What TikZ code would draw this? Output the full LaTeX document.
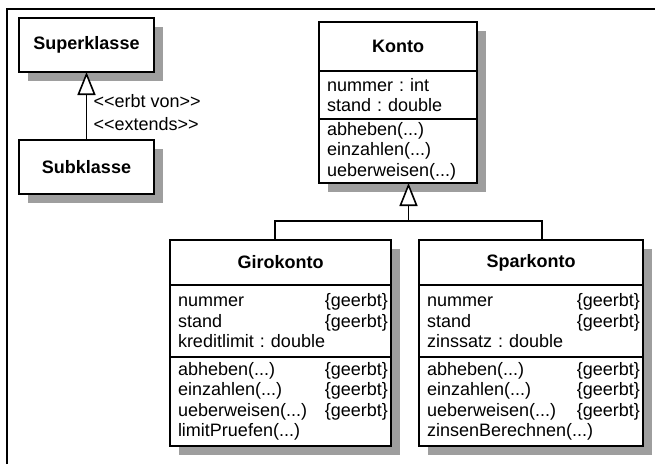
\documentclass[tikz,border=0pt]{standalone}
\usepackage{fontspec}
\setmainfont{Liberation Sans}
\usepackage{tikz}
\usetikzlibrary{arrows.meta, positioning, calc}
\setlength{\parindent}{0pt}
\frenchspacing

\newcommand{\geerbt}{\hfill\{geerbt\}\kern-5pt}

\begin{document}
\begin{tikzpicture}[
    x=1pt, y=1pt,
    font=\fontsize{18}{20.5}\selectfont,
    part/.style={rectangle, draw=black, fill=white, line width=1.6pt, outer sep=0pt, inner xsep=8pt, inner ysep=2pt, text width=#1},
    title/.style={part=#1, align=center, font=\fontsize{18}{20.5}\selectfont\bfseries},
    members/.style={part=#1, align=left},
    shadowbox/.style={fill=black!38},
    link/.style={line width=1.6pt},
    inherit/.style={link, -{Triangle[width=18pt, length=23pt, fill=white]}},
    frame/.style={line width=2.6pt}
]
\useasboundingbox (0,0) rectangle (655,-464);
\draw [frame] (7,-464) |- (655,-9);

% Schatten
\fill [shadowbox] (28,-27) rectangle (163,-81);
\fill [shadowbox] (28,-149) rectangle (163,-203);
\fill [shadowbox] (328,-31) rectangle (486,-192);
\fill [shadowbox] (179,-249) rectangle (400,-455);
\fill [shadowbox] (428,-249) rectangle (652,-455);

% Legende
\node (super) [title=119pt, minimum height=54pt, anchor=north west] at (19,-18) {Superklasse};
\node (sub) [title=119pt, minimum height=54pt, below=68pt of super] {Subklasse};

% Konto
\node (konto) [title=142pt, minimum height=49pt, anchor=north west] at (319,-22) {Konto};
\node (konto-attr) [members=142pt, minimum height=48pt, below=0pt of konto] {nummer : int\\stand : double};
\node (konto-ops) [members=142pt, minimum height=64pt, below=0pt of konto-attr] {abheben(...)\\einzahlen(...)\\ueberweisen(...)};

% Girokonto
\node (giro) [title=205pt, minimum height=45pt, anchor=north west] at (170,-240) {Girokonto};
\node (giro-attr) [members=205pt, minimum height=72pt, below=0pt of giro] {nummer\geerbt\\stand\geerbt\\kreditlimit : double};
\node (giro-ops) [members=205pt, minimum height=89pt, below=0pt of giro-attr] {abheben(...)\geerbt\\einzahlen(...)\geerbt\\ueberweisen(...)\geerbt\\limitPruefen(...)};

% Sparkonto
\node (spar) [title=208pt, minimum height=45pt, right=28pt of giro] {Sparkonto};
\node (spar-attr) [members=208pt, minimum height=72pt, below=0pt of spar] {nummer\geerbt\\stand\geerbt\\zinssatz : double};
\node (spar-ops) [members=208pt, minimum height=89pt, below=0pt of spar-attr] {abheben(...)\geerbt\\einzahlen(...)\geerbt\\ueberweisen(...)\geerbt\\zinsenBerechnen(...)};

% Vererbung
\draw [inherit] (sub) -- (super)
    node [pos=0.4, right=3pt, align=left] {<\kern0pt<erbt von>\kern0pt>\\[2pt]<\kern0pt<extends>\kern0pt>};
\coordinate (giro-in) at ([xshift=-5.5pt]giro.north);
\coordinate (spar-in) at ([xshift=11pt]spar.north);
\coordinate [yshift=19pt] (fork) at ($(giro-in)!0.5!(spar-in)$);
\draw [link] (giro-in) |- (fork) -| (spar-in);
\draw [inherit] (fork) -- (fork |- konto-ops.south);

\end{tikzpicture}
\end{document}
